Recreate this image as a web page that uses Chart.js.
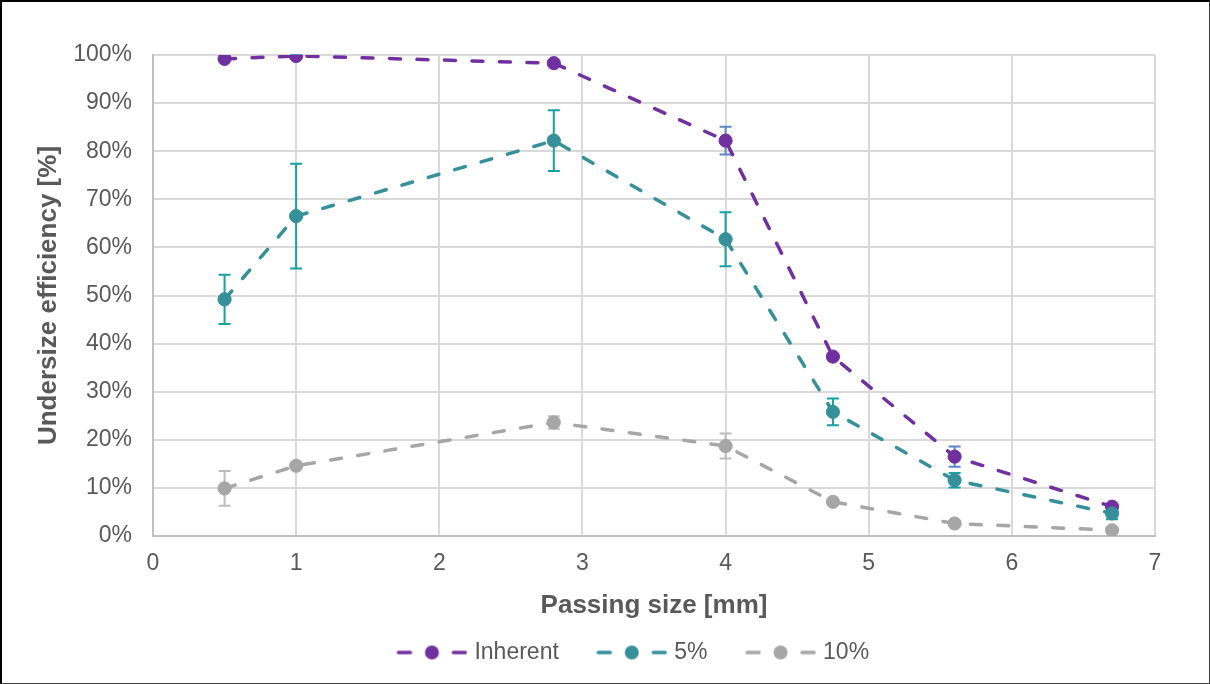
<!DOCTYPE html>
<html>
<head>
<meta charset="utf-8">
<script src="https://cdn.jsdelivr.net/npm/chart.js@4.4.1/dist/chart.umd.min.js"></script>
<style>
  html, body { margin: 0; padding: 0; background: #fff; }
  #frame {
    width: 1210px;
    height: 684px;
    box-sizing: border-box;
    border-top: 2px solid #000;
    border-left: 2px solid #000;
    border-right: 1px solid #404040;
    border-bottom: 1px solid #404040;
  }
  canvas { display: block; }
</style>
</head>
<body>
<div id="frame">
  <canvas id="efficiencyChart" width="1207" height="681"></canvas>
</div>
<script>
// Passing sizes (mm)
const passingSizes = [0.5, 1, 2.8, 4, 4.75, 5.6, 6.7];

// Undersize efficiency (%) and error for each case
const inherent = [99.2, 99.8, 98.3, 82.2, 37.3, 16.5, 6.1];
const inherentErr = [0.3, 0.2, 0.4, 2.9, 0.5, 2.1, 0.4];

const fivePct = [49.2, 66.5, 82.2, 61.7, 25.8, 11.6, 4.7];
const fivePctErr = [5.1, 10.9, 6.3, 5.6, 2.8, 1.5, 1.2];

const tenPct = [9.9, 14.6, 23.6, 18.7, 7.1, 2.6, 1.2];
const tenPctErr = [3.6, 0.4, 1.3, 2.6, 0.4, 0.3, 0.3];

const seriesLabels = ["Inherent", "5%", "10%"];
const yTicks = [0, 10, 20, 30, 40, 50, 60, 70, 80, 90, 100];

const FONT = "'Liberation Sans', Arial, sans-serif";
const TEXT = "#595959";

const toPoints = (ys) => ys.map((y, i) => ({ x: passingSizes[i], y }));

// small "dash - dot - dash" picture used as legend symbol
function legendSymbol(color) {
  const c = document.createElement("canvas");
  c.width = 98;
  c.height = 16;
  const g = c.getContext("2d");
  const x0 = 27.5;
  g.strokeStyle = color;
  g.fillStyle = color;
  g.lineWidth = 3.5;
  g.lineCap = "round";
  g.beginPath();
  g.moveTo(x0 + 1.5, 8); g.lineTo(x0 + 13.5, 8);
  g.moveTo(x0 + 56.5, 8); g.lineTo(x0 + 68.5, 8);
  g.stroke();
  g.beginPath();
  g.arc(x0 + 35, 8, 7, 0, Math.PI * 2);
  g.fill();
  return c;
}

// vertical error bars with caps, drawn under the lines
const errorBars = {
  id: "errorBars",
  beforeDatasetsDraw(chart) {
    const { ctx, scales } = chart;
    chart.data.datasets.forEach((ds) => {
      if (!ds.errors) return;
      ctx.save();
      ctx.strokeStyle = ds.errorColor;
      ctx.lineWidth = 2;
      ds.data.forEach((p, i) => {
        const e = ds.errors[i];
        const x = scales.x.getPixelForValue(p.x);
        const yTop = scales.y.getPixelForValue(p.y + e);
        const yBot = scales.y.getPixelForValue(p.y - e);
        ctx.beginPath();
        ctx.moveTo(x, yTop); ctx.lineTo(x, yBot);
        ctx.moveTo(x - 6, yTop); ctx.lineTo(x + 6, yTop);
        ctx.moveTo(x - 6, yBot); ctx.lineTo(x + 6, yBot);
        ctx.stroke();
      });
      ctx.restore();
    });
  },
};

// nudge the legend row sideways
const legendShift = {
  id: "legendShift",
  afterLayout(chart) {
    chart.legend.left += 43;
    chart.legend.right += 43;
  },
};

const makeSeries = (label, values, errors, color, errorColor, order) => ({
  label,
  data: toPoints(values),
  errors,
  errorColor,
  symbol: legendSymbol(color),
  borderColor: color,
  backgroundColor: color,
  borderWidth: 3.5,
  borderDash: [11, 16.5],
  borderCapStyle: "round",
  pointRadius: 6.6,
  pointHoverRadius: 6.6,
  pointBorderWidth: 1,
  pointBackgroundColor: color,
  pointBorderColor: color,
  tension: 0,
  order,
});

new Chart(document.getElementById("efficiencyChart"), {
  type: "line",
  data: {
    datasets: [
      makeSeries(seriesLabels[0], inherent, inherentErr, "#7030a0", "#5b86c5", 3),
      makeSeries(seriesLabels[1], fivePct, fivePctErr, "#35909a", "#17a0a0", 2),
      makeSeries(seriesLabels[2], tenPct, tenPctErr, "#a6a6a6", "#bdbdbd", 1),
    ],
  },
  plugins: [errorBars, legendShift],
  options: {
    responsive: false,
    animation: false,
    devicePixelRatio: 1,
    layout: { padding: { top: 53, right: 54, bottom: 9, left: 0 } },
    scales: {
      x: {
        type: "linear",
        min: 0,
        max: 7,
        ticks: {
          stepSize: 1,
          padding: 14,
          color: TEXT,
          font: { family: FONT, size: 23 },
        },
        grid: { color: "#d9d9d9", lineWidth: 2, drawTicks: false },
        border: { color: "#bfbfbf", width: 2 },
        title: {
          display: true,
          text: "Passing size [mm]",
          color: TEXT,
          font: { family: FONT, size: 26, weight: "bold" },
          padding: { top: 0, bottom: 5 },
        },
        afterFit(scale) {
          scale.height = 90;
        },
      },
      y: {
        min: 0,
        max: 100,
        afterBuildTicks(scale) {
          scale.ticks = yTicks.map((v) => ({ value: v }));
        },
        ticks: {
          padding: 21,
          color: TEXT,
          font: { family: FONT, size: 23 },
          callback: (v) => v + "%",
        },
        grid: { color: "#d9d9d9", lineWidth: 2, drawTicks: false },
        border: { color: "#bfbfbf", width: 2 },
        title: {
          display: true,
          text: "Undersize efficiency [%]",
          color: TEXT,
          font: { family: FONT, size: 26, weight: "bold" },
          padding: { top: 31, bottom: 0 },
        },
        afterFit(scale) {
          scale.width = 151;
        },
      },
    },
    plugins: {
      tooltip: { enabled: false },
      legend: {
        position: "bottom",
        labels: {
          usePointStyle: true,
          pointStyleWidth: 89,
          padding: 15,
          color: TEXT,
          font: { family: FONT, size: 23 },
          generateLabels(chart) {
            const items = Chart.defaults.plugins.legend.labels.generateLabels(chart);
            items.sort((a, b) => a.datasetIndex - b.datasetIndex);
            items.forEach((item) => {
              item.pointStyle = chart.data.datasets[item.datasetIndex].symbol;
            });
            return items;
          },
        },
      },
    },
  },
});
</script>
</body>
</html>
